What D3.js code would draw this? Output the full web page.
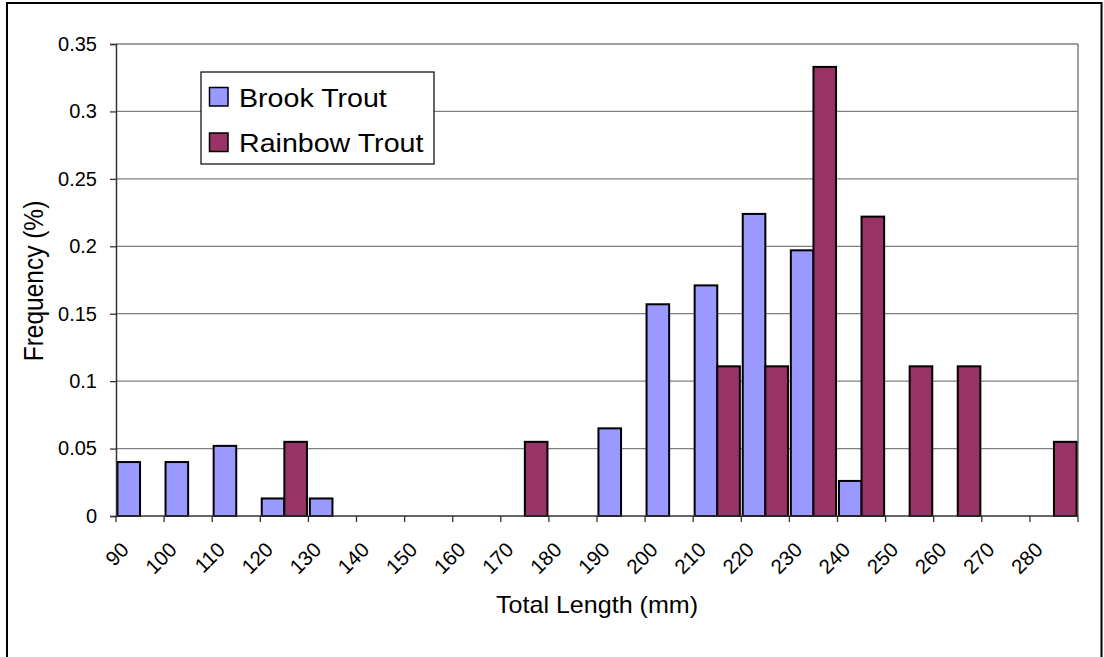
<!DOCTYPE html>
<html>
<head>
<meta charset="utf-8">
<script src="https://cdn.jsdelivr.net/npm/d3@7"></script>
<style>
  html, body { margin: 0; padding: 0; background: #fff; }
  svg { display: block; font-family: "Liberation Sans", Arial, sans-serif; }
</style>
</head>
<body>
<svg id="chart" width="1104" height="657"></svg>
<script>
// Length classes (mm)
const categories = [90, 100, 110, 120, 130, 140, 150, 160, 170, 180,
                    190, 200, 210, 220, 230, 240, 250, 260, 270, 280];
// Relative frequency per length class
const brookTrout   = [0.04, 0.04, 0.052, 0.013, 0.013, 0, 0, 0, 0, 0,
                      0.065, 0.157, 0.171, 0.224, 0.197, 0.026, 0, 0, 0, 0];
const rainbowTrout = [0, 0, 0, 0.055, 0, 0, 0, 0, 0.055, 0,
                      0, 0, 0.111, 0.111, 0.333, 0.222, 0.111, 0.111, 0, 0.055];
const yTicks = [0, 0.05, 0.1, 0.15, 0.2, 0.25, 0.3, 0.35];
const seriesNames = ["Brook Trout", "Rainbow Trout"];
const seriesColors = ["#9999ff", "#993366"];

const svg = d3.select("#chart");
const plot = { left: 116, right: 1078, top: 44, bottom: 516 };

const x = d3.scaleBand().domain(categories).range([plot.left, plot.right]).padding(0);
const y = d3.scaleLinear().domain([0, 0.35]).range([plot.bottom, plot.top]);

// outer frame
svg.append("rect")
  .attr("x", 7).attr("y", 3).attr("width", 1094.5).attr("height", 700)
  .attr("fill", "none").attr("stroke", "#000").attr("stroke-width", 2);

// horizontal gridlines
svg.append("g").selectAll("line").data(yTicks.filter(d => d > 0)).join("line")
  .attr("x1", plot.left).attr("x2", plot.right)
  .attr("y1", d => y(d)).attr("y2", d => y(d))
  .attr("stroke", "#808080").attr("stroke-width", 1.3);

// right edge of the plot area
svg.append("line")
  .attr("x1", plot.right).attr("x2", plot.right)
  .attr("y1", plot.top).attr("y2", plot.bottom)
  .attr("stroke", "#808080").attr("stroke-width", 1.5);

// bars
const bw = x.bandwidth();
const barW = bw * 0.47;
const series = [brookTrout, rainbowTrout];
series.forEach((vals, si) => {
  const data = categories.map((c, i) => ({ c, v: vals[i] })).filter(d => d.v > 0);
  svg.append("g").selectAll("rect").data(data).join("rect")
    .attr("x", d => x(d.c) + bw / 2 - (si === 0 ? barW : 0))
    .attr("y", d => y(d.v))
    .attr("width", barW)
    .attr("height", d => y(0) - y(d.v))
    .attr("fill", seriesColors[si])
    .attr("stroke", "#000").attr("stroke-width", 2);
});

// y axis
const yAxis = svg.append("g").attr("transform", `translate(${plot.left},0)`)
  .call(d3.axisLeft(y).tickValues(yTicks).tickSize(6).tickPadding(13)
        .tickFormat(d => d3.format("")(+d.toFixed(2))));
yAxis.select(".domain").attr("stroke", "#333").attr("stroke-width", 1.5);
yAxis.selectAll(".tick line").attr("stroke", "#333").attr("stroke-width", 1.3);
yAxis.selectAll(".tick text").attr("font-size", 20).attr("fill", "#000")
  .attr("font-family", "Liberation Sans, Arial, sans-serif");

// x axis: ticks on category boundaries
const xAxis = svg.append("g").attr("transform", `translate(0,${plot.bottom})`);
xAxis.append("line").attr("x1", plot.left).attr("x2", plot.right)
  .attr("stroke", "#333").attr("stroke-width", 1.5);
const bounds = categories.map(c => x(c)).concat([plot.right]);
xAxis.selectAll("line.tk").data(bounds).join("line").attr("class", "tk")
  .attr("x1", d => d).attr("x2", d => d).attr("y1", 0).attr("y2", 6)
  .attr("stroke", "#333").attr("stroke-width", 1.3);
xAxis.selectAll("text").data(categories).join("text")
  .attr("transform", d => `translate(${x(d) + bw / 2 - 10},${35}) rotate(-45)`)
  .attr("text-anchor", "end")
  .attr("font-size", 20.5).attr("fill", "#000")
  .text(d => d);

// axis titles
svg.append("text")
  .attr("transform", `translate(${(plot.left + plot.right) / 2},613) scale(1.09,1)`)
  .attr("text-anchor", "middle").attr("font-size", 23).attr("fill", "#000")
  .text("Total Length (mm)");
svg.append("text")
  .attr("transform", `translate(43,${(plot.top + plot.bottom) / 2 + 1}) rotate(-90) scale(1.0,1.12)`)
  .attr("text-anchor", "middle").attr("font-size", 24.5).attr("fill", "#000")
  .text("Frequency (%)");

// legend
const legend = svg.append("g");
legend.append("rect")
  .attr("x", 201).attr("y", 72).attr("width", 233).attr("height", 92)
  .attr("fill", "#fff").attr("stroke", "#000").attr("stroke-width", 1.2);
seriesNames.forEach((name, i) => {
  const cy = 97 + i * 45.5;
  legend.append("rect")
    .attr("x", 209.5).attr("y", cy - 9.5).attr("width", 18.5).attr("height", 18.5)
    .attr("fill", seriesColors[i]).attr("stroke", "#000").attr("stroke-width", 1.5);
  legend.append("text")
    .attr("transform", `translate(239,${cy + 9.5}) scale(1.1,1)`)
    .attr("font-size", 26).attr("fill", "#000")
    .text(name);
});
</script>
</body>
</html>
